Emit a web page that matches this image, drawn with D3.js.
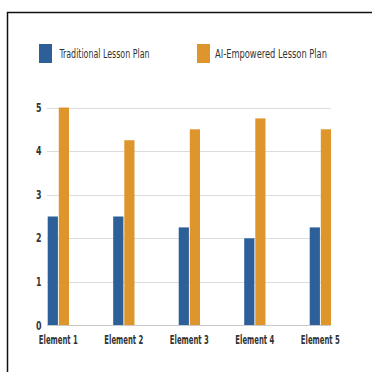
<!DOCTYPE html>
<html>
<head>
<meta charset="utf-8">
<script src="https://cdn.jsdelivr.net/npm/d3@7"></script>
<style>
  html, body { margin: 0; padding: 0; background: #fff; }
  svg { display: block; }
  text { font-family: "DejaVu Sans Condensed", "Roboto", sans-serif; }
</style>
</head>
<body>
<svg id="chart" width="372" height="372"></svg>
<script>
// Ratings per lesson-plan element
const categories = ["Element 1", "Element 2", "Element 3", "Element 4", "Element 5"];
const seriesNames = ["Traditional Lesson Plan", "AI-Empowered Lesson Plan"];
const traditional = [2.5, 2.5, 2.25, 2.0, 2.25];
const aiEmpowered = [5.0, 4.25, 4.5, 4.75, 4.5];
const yTicks = [0, 1, 2, 3, 4, 5];
const colors = ["#2d5f99", "#de962c"];

const series = [traditional, aiEmpowered];
const rows = categories.map((c, i) => ({ cat: c, values: series.map(s => s[i]) }));

const svg = d3.select("#chart");

// frame lines (top and left edges)
svg.append("line").attr("x1", 7).attr("x2", 372).attr("y1", 12.5).attr("y2", 12.5)
  .attr("stroke", "#111").attr("stroke-width", 1.5);
svg.append("line").attr("x1", 7.5).attr("x2", 7.5).attr("y1", 12).attr("y2", 372)
  .attr("stroke", "#111").attr("stroke-width", 1.5);

const x0 = d3.scaleBand().domain(categories).range([47.7, 331]).paddingInner(0.675).paddingOuter(0);
const x1 = d3.scaleBand().domain(d3.range(series.length)).range([0, x0.bandwidth()]).paddingInner(0.08);
const y = d3.scaleLinear().domain([0, 5]).range([325.5, 107.5]);

// gridlines
svg.append("g").selectAll("line").data(yTicks.filter(t => t > 0)).join("line")
  .attr("x1", 47).attr("x2", 331)
  .attr("y1", d => Math.round(y(d)) + 0.5).attr("y2", d => Math.round(y(d)) + 0.5)
  .attr("stroke", "#dcdcdc").attr("stroke-width", 1);

// y axis labels
const yAxis = svg.append("g").attr("transform", "translate(41.5,0)")
  .call(d3.axisLeft(y).tickValues(yTicks).tickSize(0).tickPadding(0).tickFormat(d3.format("d")));
yAxis.select(".domain").remove();
yAxis.selectAll("text").attr("font-size", 11.5).attr("font-weight", "bold").attr("fill", "#333")
  .attr("textLength", 5.5).attr("lengthAdjust", "spacingAndGlyphs");

// bars
svg.append("g").selectAll("g").data(rows).join("g")
  .attr("transform", d => `translate(${x0(d.cat)},0)`)
  .selectAll("rect").data(d => d.values.map((v, i) => ({ v, i }))).join("rect")
  .attr("x", d => x1(d.i)).attr("width", x1.bandwidth())
  .attr("y", d => y(d.v)).attr("height", d => y(0) - y(d.v))
  .attr("fill", d => colors[d.i]);

// baseline
svg.append("line").attr("x1", 47).attr("x2", 331).attr("y1", 325.5).attr("y2", 325.5)
  .attr("stroke", "#c8c8c8").attr("stroke-width", 1);

// category labels
const xAxis = svg.append("g").attr("transform", "translate(0,326)")
  .call(d3.axisBottom(x0).tickSize(0).tickPadding(9));
xAxis.select(".domain").remove();
xAxis.selectAll("text").attr("font-size", 12.5).attr("font-weight", "bold").attr("fill", "#333")
  .attr("textLength", 39).attr("lengthAdjust", "spacingAndGlyphs");

// legend
const legendX = [39, 197];
const legendW = [90, 112];
const legend = svg.append("g").selectAll("g").data(seriesNames).join("g")
  .attr("transform", (d, i) => `translate(${legendX[i]},44)`);
legend.append("rect").attr("width", 13).attr("height", 19).attr("fill", (d, i) => colors[i]);
legend.append("text").attr("x", (d, i) => i === 0 ? 20.5 : 18).attr("y", 9.5).attr("dy", "0.35em")
  .attr("font-size", 13).attr("fill", "#333")
  .attr("textLength", (d, i) => legendW[i]).attr("lengthAdjust", "spacingAndGlyphs")
  .text(d => d);
</script>
</body>
</html>
